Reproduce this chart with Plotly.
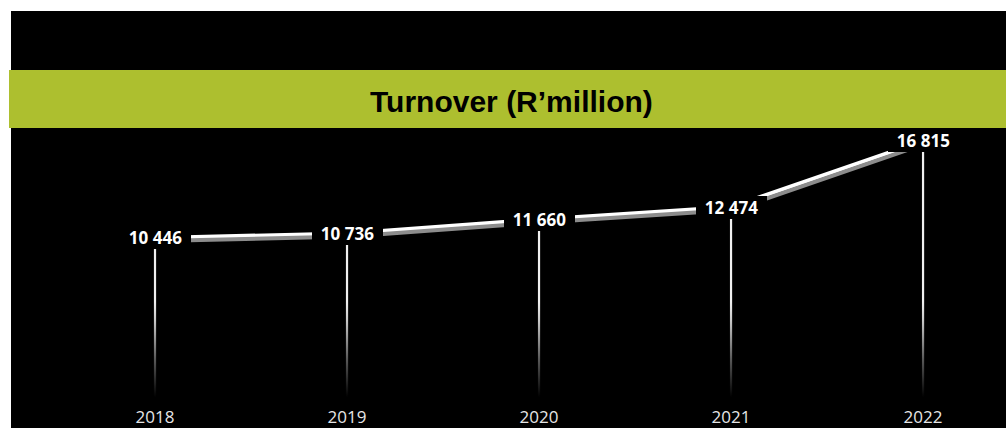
import plotly.graph_objects as go

# Turnover data (R'million)
years = ["2018", "2019", "2020", "2021", "2022"]
turnover = [10446, 10736, 11660, 12474, 16815]
title_text = "Turnover (R’million)"

W, H = 1006, 428
M_L, M_R, M_T, M_B = 11, 0, 11, 31
plot_w = W - M_L - M_R
plot_h = H - M_T - M_B

Y_MAX = 25350
idx = list(range(len(years)))
x_range = [-0.75, 4.432]
px_per_x = plot_w / (x_range[1] - x_range[0])
px_per_y = plot_h / Y_MAX

# shadow offsets in pixels, converted into shifted axis ranges
SH_DX, SH_DY = 2, 3
x2_range = [x_range[0] - SH_DX / px_per_x, x_range[1] - SH_DX / px_per_x]
y2_range = [SH_DY / px_per_y, Y_MAX + SH_DY / px_per_y]

fig = go.Figure()

# drop lines: thin vertical strips fading toward the baseline
half_w = 1.1 / px_per_x
fade_stop = min(turnover) * 0.6
for i, v in zip(idx, turnover):
    fig.add_trace(go.Scatter(
        x=[i - half_w, i + half_w, i + half_w, i - half_w, i - half_w],
        y=[0, 0, v, v, 0],
        mode="lines", line=dict(width=0), fill="toself",
        fillgradient=dict(type="vertical", start=0, stop=fade_stop,
                          colorscale=[[0, "#000000"], [0.4, "#5a5a5a"],
                                      [0.8, "#c8c8c8"], [1, "#f0f0f0"]]),
        hoverinfo="skip", showlegend=False,
    ))

# shadow of the turnover line
fig.add_trace(go.Scatter(
    x=idx, y=turnover, xaxis="x2", yaxis="y2", mode="lines",
    line=dict(color="#8c8c8c", width=4), hoverinfo="skip", showlegend=False,
))
# turnover line
fig.add_trace(go.Scatter(
    x=idx, y=turnover, mode="lines",
    line=dict(color="#ffffff", width=4), hoverinfo="skip", showlegend=False,
))

# value labels on black boxes
pad = "\u00a0\u00a0"
for i, v in zip(idx, turnover):
    fig.add_annotation(
        x=i, y=v, xref="x", yref="y", showarrow=False,
        xanchor="center", yanchor="middle",
        text=pad + f"<b>{v:,}</b>".replace(",", " ") + pad,
        font=dict(family="Open Sans", size=17, color="#ffffff"),
        bgcolor="#000000", borderpad=0, borderwidth=0,
    )

def px_to_py(py):
    return (H - M_B - py) / plot_h

def px_to_px(px):
    return (px - M_L) / plot_w

# white page strips above and left of the black panel
fig.add_shape(type="rect", xref="paper", yref="paper", layer="below",
              x0=px_to_px(-5), x1=1.05, y0=1, y1=px_to_py(-5),
              fillcolor="#ffffff", line=dict(width=0))
fig.add_shape(type="rect", xref="paper", yref="paper", layer="below",
              x0=px_to_px(-5), x1=0, y0=-0.3, y1=px_to_py(-5),
              fillcolor="#ffffff", line=dict(width=0))
# green title band
fig.add_shape(type="rect", xref="paper", yref="paper", layer="below",
              x0=px_to_px(9), x1=1.05, y0=px_to_py(128), y1=px_to_py(70),
              fillcolor="#adbf2f", line=dict(width=0))
fig.add_annotation(
    x=px_to_px(511.5), y=px_to_py(101), xref="paper", yref="paper",
    xanchor="center", yanchor="middle",
    showarrow=False, text=f"<b>{title_text}</b>",
    font=dict(family="Liberation Sans", size=30, color="#000000"),
)

fig.update_layout(
    width=W, height=H,
    margin=dict(l=M_L, r=M_R, t=M_T, b=M_B, pad=0, autoexpand=False),
    paper_bgcolor="#000000", plot_bgcolor="rgba(0,0,0,0)",
    xaxis=dict(range=x_range, tickmode="array", tickvals=idx, ticktext=years,
               showgrid=False, zeroline=False, showline=False, ticks="",
               automargin=False,
               tickfont=dict(family="Open Sans", size=17, color="#e6e6e6"),
               ticklabelstandoff=8),
    yaxis=dict(range=[0, Y_MAX], visible=False, automargin=False),
    xaxis2=dict(range=x2_range, overlaying="x", visible=False),
    yaxis2=dict(range=y2_range, overlaying="y", visible=False),
    showlegend=False,
)

fig.write_html("out.html")
